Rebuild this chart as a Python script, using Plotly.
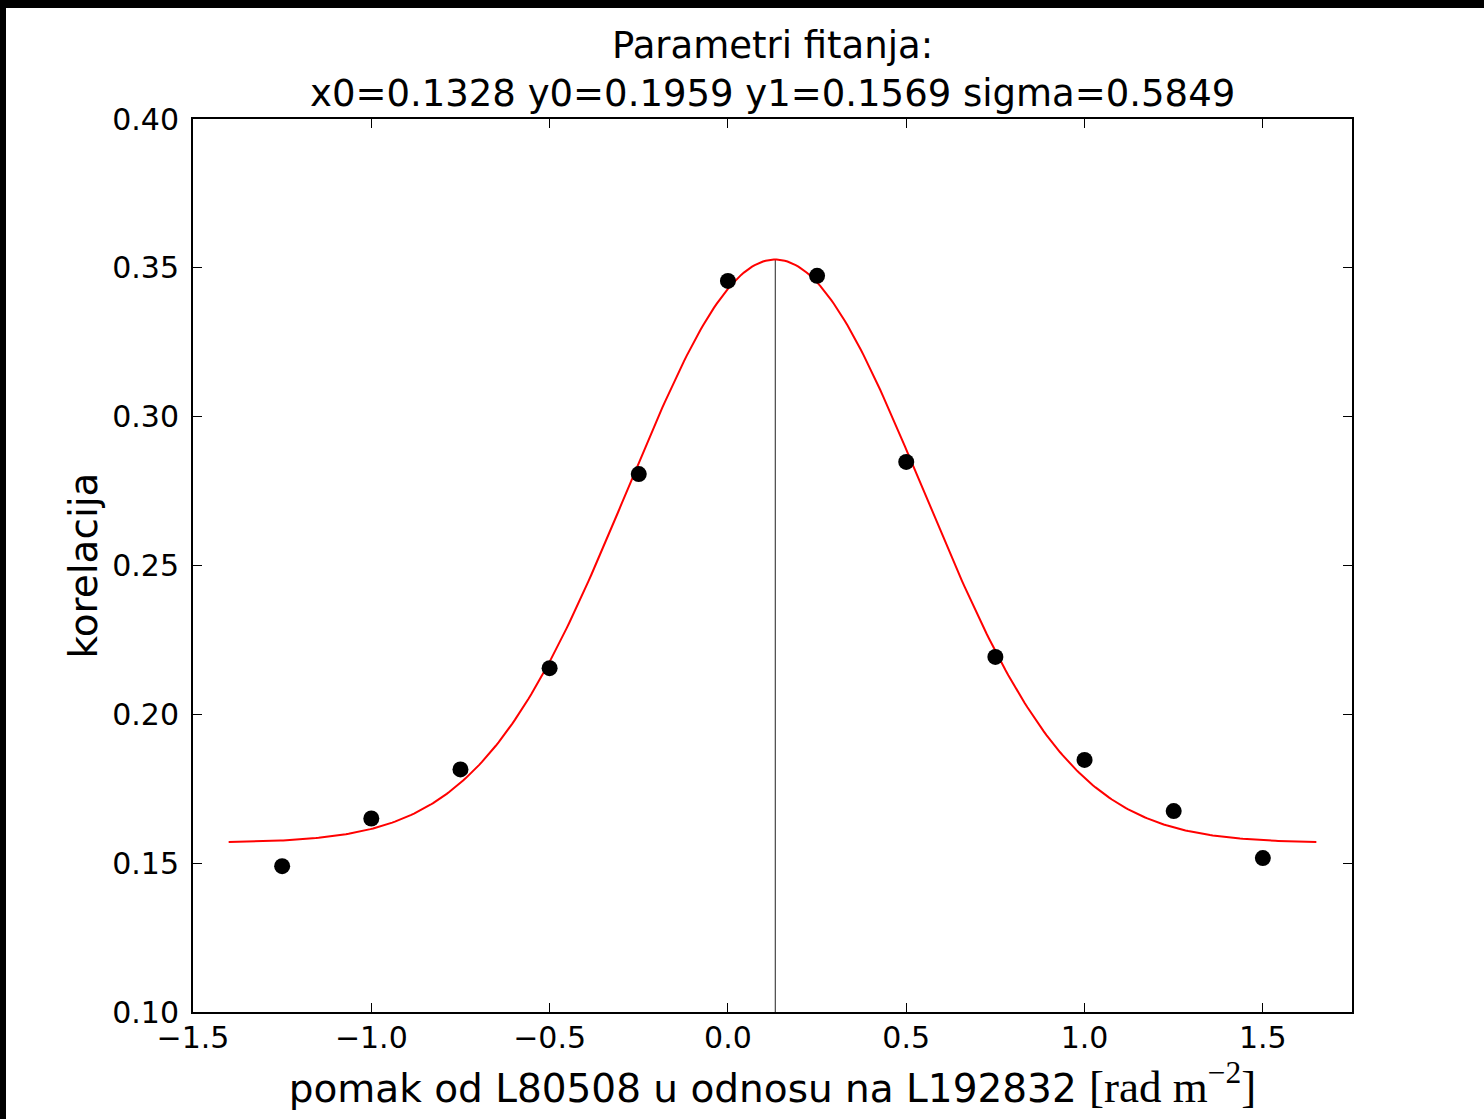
import numpy as np
import plotly.graph_objects as go

# data points
x_pts = [-1.25, -1.0, -0.75, -0.5, -0.25, 0.0, 0.25, 0.5, 0.75, 1.0, 1.25, 1.5]
y_pts = [0.149, 0.165, 0.1815, 0.2155, 0.2807, 0.3456, 0.3473, 0.2848, 0.2193, 0.1847, 0.1675, 0.1517]

# fit parameters shown in the title
x0 = 0.1328
y0 = 0.1959
y1 = 0.1569
sigma = 0.5849

x_ticks = [-1.5, -1.0, -0.5, 0.0, 0.5, 1.0, 1.5]
x_ticktext = ["\u22121.5", "\u22121.0", "\u22120.5", "0.0", "0.5", "1.0", "1.5"]
y_ticks = [0.10, 0.15, 0.20, 0.25, 0.30, 0.35, 0.40]
y_ticktext = ["0.10", "0.15", "0.20", "0.25", "0.30", "0.35", "0.40"]

xf = np.linspace(min(x_pts) - 0.15, max(x_pts) + 0.15, 400)
yf = y1 + y0 * np.exp(-((xf - x0) ** 2) / sigma ** 2)

FONT = "DejaVu Sans"
fig = go.Figure()
fig.add_trace(go.Scatter(x=[x0, x0], y=[0.10, y0 + y1], mode="lines",
                         line=dict(color="#222222", width=1), showlegend=False))
fig.add_trace(go.Scatter(x=xf, y=yf, mode="lines",
                         line=dict(color="#ff0000", width=2), showlegend=False))
fig.add_trace(go.Scatter(x=x_pts, y=y_pts, mode="markers",
                         marker=dict(color="black", size=16), showlegend=False))

axis_common = dict(showgrid=False, zeroline=False, showline=True, linecolor="black",
                   linewidth=2, mirror="ticks", ticks="inside", ticklen=9,
                   tickwidth=1.3, tickcolor="black",
                   tickfont=dict(family=FONT, size=30, color="black"))

title_text = "Parametri fitanja:<br>x0=%.4f y0=%.4f y1=%.4f sigma=%.4f" % (x0, y0, y1, sigma)
xlabel = ("pomak od L80508 u odnosu na L192832 "
          "<span style='font-family:Liberation Serif;font-size:45px'>[rad m<sup>\u22122</sup>]</span>")

fig.update_layout(
    width=1484, height=1119,
    margin=dict(l=193, r=132, t=119, b=107),
    paper_bgcolor="white", plot_bgcolor="white",
    xaxis=dict(range=[-1.5, 1.75], tickvals=x_ticks, ticktext=x_ticktext,
               ticklabelstandoff=-2,
               title=dict(text=xlabel, font=dict(family=FONT, size=39, color="black"), standoff=16),
               **axis_common),
    yaxis=dict(range=[0.10, 0.40], tickvals=y_ticks, ticktext=y_ticktext,
               ticklabelstandoff=6,
               title=dict(text="korelacija", font=dict(family=FONT, size=39, color="black"), standoff=3),
               **axis_common),
    annotations=[
        dict(text=title_text, xref="paper", yref="paper", x=0.5, y=1, xanchor="center",
             yanchor="bottom", yshift=2, showarrow=False,
             font=dict(family=FONT, size=37, color="black")),
    ],
    shapes=[
        dict(type="rect", xref="paper", yref="paper", x0=-0.2, x1=1.2,
             y0=(1012 - 8) / 893, y1=1.2, fillcolor="black", line=dict(width=0), layer="above"),
        dict(type="rect", xref="paper", yref="paper", x0=-0.2, x1=(6 - 193) / 1159,
             y0=-0.2, y1=1.2, fillcolor="black", line=dict(width=0), layer="above"),
    ],
)

fig.write_html("out.html", config={"displayModeBar": False},
               post_script="document.body.style.margin='0';document.body.style.overflow='hidden';")
